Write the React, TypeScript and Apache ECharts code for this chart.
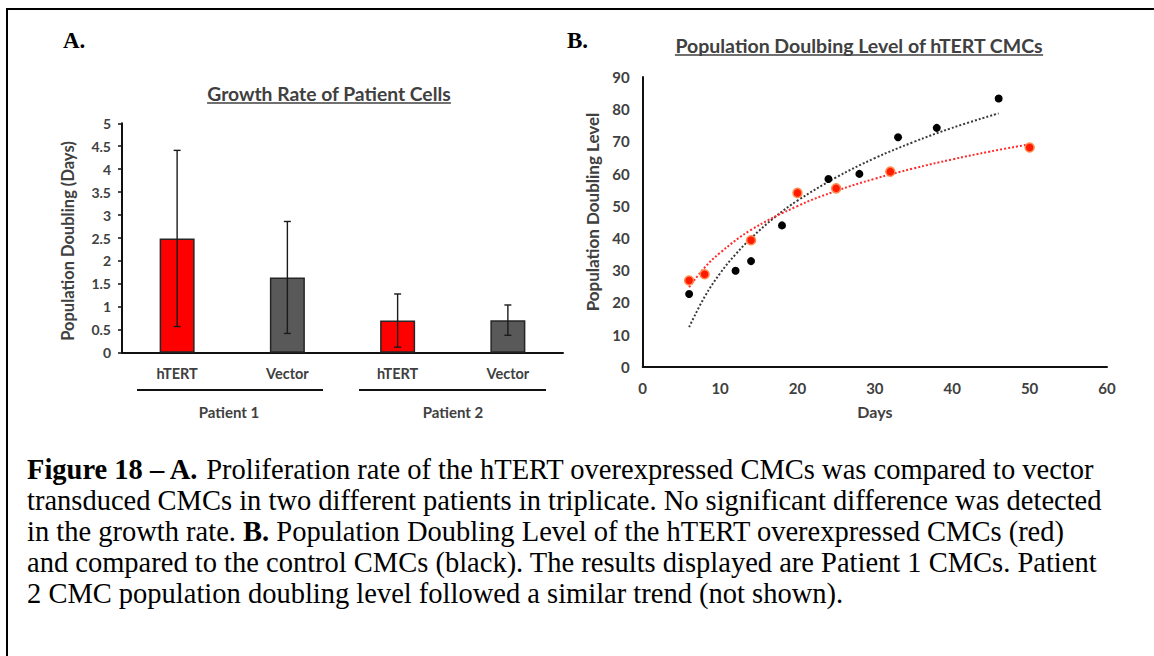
import React, { useEffect, useRef } from "react";
import * as echarts from "echarts";

// ---------- Data ----------
const barCategories = ["hTERT", "Vector", "hTERT", "Vector"];
const growthMeans = [2.49, 1.64, 0.7, 0.71];
const growthErrors = [1.92, 1.22, 0.58, 0.33];
const patientGroups = ["Patient 1", "Patient 2"];

const controlDays = [6, 12, 14, 18, 24, 28, 33, 38, 46];
const controlPDL = [22.6, 29.8, 32.8, 43.9, 58.3, 59.9, 71.3, 74.2, 83.3];
const htertDays = [6, 8, 14, 20, 25, 32, 50];
const htertPDL = [26.8, 28.7, 39.3, 54.0, 55.4, 60.6, 68.1];

// dotted trend curves
const controlTrendDays = [6, 8, 10, 12, 14, 17, 20, 25, 30, 35, 40, 46];
const controlTrendPDL = [12.3, 21.7, 29.0, 34.9, 39.9, 46.3, 51.6, 58.8, 64.8, 69.8, 74.2, 78.7];
const htertTrendDays = [6, 8, 10, 14, 20, 25, 30, 35, 40, 45, 50];
const htertTrendPDL = [24.7, 30.8, 35.4, 42.5, 49.9, 54.6, 58.4, 61.6, 64.4, 66.9, 69.1];

const captionLines = [
  "{b|Figure 18 – A.} Proliferation rate of the hTERT overexpressed CMCs was compared to vector",
  "transduced CMCs in two different patients in triplicate. No significant difference was detected",
  "in the growth rate. {b|B.} Population Doubling Level of the hTERT overexpressed CMCs (red)",
  "and compared to the control CMCs (black). The results displayed are Patient 1 CMCs. Patient",
  "2 CMC population doubling level followed a similar trend (not shown).",
];

const leftTitle = "Growth Rate of Patient Cells";
const rightTitle = "Population Doulbing Level of hTERT CMCs";

const SANS = "Lato";
const SERIF = "'Liberation Serif', 'Times New Roman', serif";
const TXT = "#404040";

function measure(text: string, font: string): number {
  const c = document.createElement("canvas").getContext("2d");
  if (!c) return text.length * 9;
  c.font = font;
  return c.measureText(text).width;
}

export default function App() {
  const ref = useRef<HTMLDivElement>(null);

  useEffect(() => {
    if (!ref.current) return;
    const chart = echarts.init(ref.current, null, { renderer: "svg" });

    const ltFont = `bold 19.3px ${SANS}`;
    const rtFont = `bold 19.5px ${SANS}`;
    const ltW = measure(leftTitle, ltFont);
    const rtW = measure(rightTitle, rtFont);
    const ltX = 329, ltY = 93;
    const rtX = 859, rtY = 45;
    const capSize = 28.5;

    const graphic: any[] = [
      {
        type: "rect",
        shape: { x: 7, y: 9, width: 1170, height: 680 },
        style: { fill: "none", stroke: "#000", lineWidth: 2 },
        silent: true,
      },
      { type: "text", x: 63, y: 40, style: { text: "A.", font: `bold 23px ${SERIF}`, fill: "#000", verticalAlign: "middle" } },
      { type: "text", x: 567, y: 40, style: { text: "B.", font: `bold 23px ${SERIF}`, fill: "#000", verticalAlign: "middle" } },
      { type: "text", x: ltX, y: ltY, style: { text: leftTitle, font: ltFont, fill: TXT, align: "center", verticalAlign: "middle" } },
      { type: "line", shape: { x1: ltX - ltW / 2, y1: ltY + 10, x2: ltX + ltW / 2, y2: ltY + 10 }, style: { stroke: TXT, lineWidth: 1.5 } },
      { type: "text", x: rtX, y: rtY, style: { text: rightTitle, font: rtFont, fill: TXT, align: "center", verticalAlign: "middle" } },
      { type: "line", shape: { x1: rtX - rtW / 2, y1: rtY + 10, x2: rtX + rtW / 2, y2: rtY + 10 }, style: { stroke: TXT, lineWidth: 1.5 } },
      {
        type: "text", x: 68, y: 241, rotation: Math.PI / 2,
        style: { text: "Population Doubling (Days)", font: `bold 16.5px ${SANS}`, fill: TXT, align: "center", verticalAlign: "middle" },
      },
      {
        type: "text", x: 592, y: 212, rotation: Math.PI / 2,
        style: { text: "Population Doubling Level", font: `bold 17px ${SANS}`, fill: TXT, align: "center", verticalAlign: "middle" },
      },
      // group brackets under the categories
      { type: "line", shape: { x1: 137, y1: 390, x2: 323, y2: 390 }, style: { stroke: "#111", lineWidth: 2 } },
      { type: "line", shape: { x1: 359, y1: 390, x2: 546, y2: 390 }, style: { stroke: "#111", lineWidth: 2 } },
      { type: "text", x: 229, y: 412, style: { text: patientGroups[0], font: `bold 15px ${SANS}`, fill: TXT, align: "center", verticalAlign: "middle" } },
      { type: "text", x: 453, y: 412, style: { text: patientGroups[1], font: `bold 15px ${SANS}`, fill: TXT, align: "center", verticalAlign: "middle" } },
    ];

    const lineYs = [469, 500, 531, 562, 593];
    captionLines.forEach((t, i) => {
      graphic.push({
        type: "text",
        x: 27,
        y: lineYs[i],
        style: {
          text: t,
          font: `${capSize}px ${SERIF}`,
          fill: "#000",
          verticalAlign: "middle",
          rich: { b: { fontWeight: "bold", fontSize: capSize, fontFamily: SERIF, fill: "#000" } },
        },
      });
    });

    const axisText = { color: TXT, fontWeight: "bold" as const, fontSize: 15, fontFamily: SANS };

    chart.setOption({
      animation: false,
      backgroundColor: "#fff",
      grid: [
        { left: 122, right: 591, top: 123.3, bottom: 303.3, containLabel: false },
        { left: 642.7, right: 47, top: 77, bottom: 289.3, containLabel: false },
      ],
      xAxis: [
        {
          type: "category",
          gridIndex: 0,
          data: barCategories,
          axisLine: { lineStyle: { color: "#111", width: 2 } },
          axisTick: { show: false },
          axisLabel: { ...axisText, fontSize: 14.5, margin: 13 },
        },
        {
          type: "value",
          gridIndex: 1,
          min: 0,
          max: 60,
          interval: 10,
          splitLine: { show: false },
          axisLine: { show: true, lineStyle: { color: "#111", width: 2 } },
          axisTick: { show: false },
          axisLabel: { ...axisText, margin: 14 },
          name: "Days",
          nameLocation: "middle",
          nameGap: 37,
          nameTextStyle: { ...axisText, fontSize: 16 },
        },
      ],
      yAxis: [
        {
          type: "value",
          gridIndex: 0,
          min: 0,
          max: 5,
          interval: 0.5,
          splitLine: { show: false },
          axisLine: { show: true, lineStyle: { color: "#111", width: 2 } },
          axisTick: { show: true, length: 4, lineStyle: { color: "#111", width: 1.5 } },
          axisLabel: { ...axisText, fontSize: 14, margin: 11, formatter: (v: number) => String(v) },
        },
        {
          type: "value",
          gridIndex: 1,
          min: 0,
          max: 90,
          interval: 10,
          splitLine: { show: false },
          axisLine: { show: true, lineStyle: { color: "#111", width: 2 } },
          axisTick: { show: false },
          axisLabel: { ...axisText, margin: 13 },
        },
      ],
      series: [
        {
          type: "bar",
          xAxisIndex: 0,
          yAxisIndex: 0,
          barWidth: 35,
          data: growthMeans.map((v, i) => ({
            value: v,
            itemStyle: {
              color: barCategories[i] === "hTERT" ? "#ff0000" : "#595959",
              borderColor: "#262626",
              borderWidth: 1.5,
            },
          })),
          z: 2,
        },
        {
          type: "custom",
          xAxisIndex: 0,
          yAxisIndex: 0,
          data: growthMeans.map((m, i) => [i, m - growthErrors[i], m + growthErrors[i]]),
          encode: { x: 0, y: [1, 2] },
          z: 5,
          renderItem: (params: any, api: any) => {
            const idx = api.value(0);
            const lo = api.coord([idx, api.value(1)]);
            const hi = api.coord([idx, api.value(2)]);
            const w = 3.5;
            const st = { stroke: "#1a1a1a", lineWidth: 1.4 };
            return {
              type: "group",
              children: [
                { type: "line", shape: { x1: lo[0], y1: lo[1], x2: hi[0], y2: hi[1] }, style: st },
                { type: "line", shape: { x1: hi[0] - w, y1: hi[1], x2: hi[0] + w, y2: hi[1] }, style: st },
                { type: "line", shape: { x1: lo[0] - w, y1: lo[1], x2: lo[0] + w, y2: lo[1] }, style: st },
              ],
            };
          },
        },
        {
          type: "line",
          xAxisIndex: 1,
          yAxisIndex: 1,
          data: controlTrendDays.map((d, i) => [d, controlTrendPDL[i]]),
          showSymbol: false,
          smooth: 0.4,
          lineStyle: { color: "#3a3a3a", width: 2, type: [2, 2] },
          z: 2,
        },
        {
          type: "line",
          xAxisIndex: 1,
          yAxisIndex: 1,
          data: htertTrendDays.map((d, i) => [d, htertTrendPDL[i]]),
          showSymbol: false,
          smooth: 0.4,
          lineStyle: { color: "#ff2a2a", width: 2, type: [2, 2] },
          z: 2,
        },
        {
          type: "scatter",
          xAxisIndex: 1,
          yAxisIndex: 1,
          data: controlDays.map((d, i) => [d, controlPDL[i]]),
          symbolSize: 8,
          itemStyle: { color: "#000", opacity: 1 },
          z: 4,
        },
        {
          type: "scatter",
          xAxisIndex: 1,
          yAxisIndex: 1,
          data: htertDays.map((d, i) => [d, htertPDL[i]]),
          symbolSize: 9,
          itemStyle: { color: "#ff1a00", borderColor: "#ff8a50", borderWidth: 1.5, opacity: 1 },
          z: 4,
        },
      ],
      graphic,
    });

    return () => chart.dispose();
  }, []);

  return (
    <div
      ref={ref}
      style={{ position: "absolute", left: 0, top: 0, width: 1154, height: 656, background: "#fff" }}
    />
  );
}
